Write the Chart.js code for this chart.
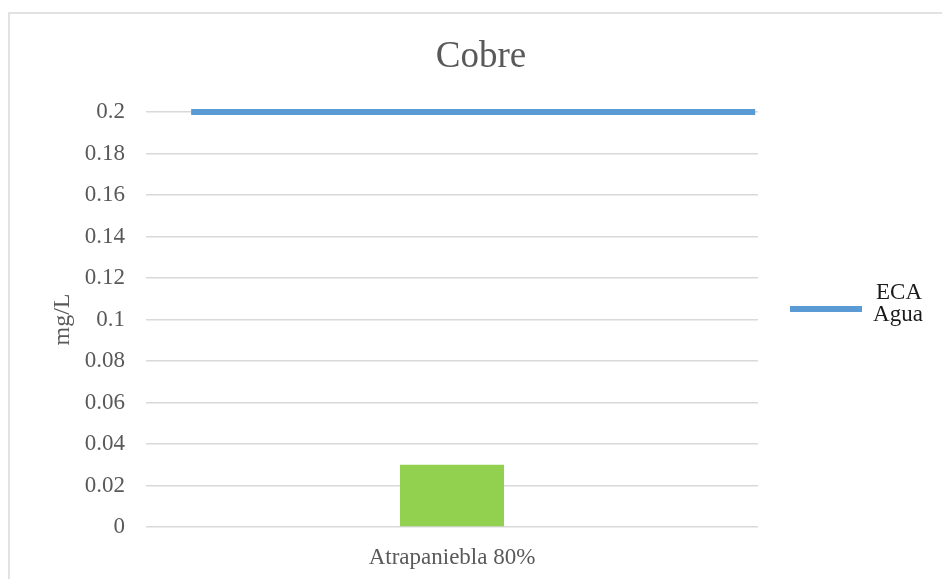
<!DOCTYPE html>
<html>
<head>
<meta charset="utf-8">
<script src="https://cdn.jsdelivr.net/npm/chart.js@4/dist/chart.umd.min.js"></script>
<style>
    html, body { margin: 0; padding: 0; background: #ffffff; }
    #wrap { position: relative; width: 942px; height: 579px; }
</style>
</head>
<body>
<div id="wrap"><canvas id="cobre" width="942" height="579"></canvas></div>
<script>
var chartTitle = 'Cobre';
var categories = ['Atrapaniebla 80%'];
var cobreValues = [0.03];
var ecaValues = [0.2, 0.2];
var yTicks = [0, 0.02, 0.04, 0.06, 0.08, 0.1, 0.12, 0.14, 0.16, 0.18, 0.2];

var serif = "'Liberation Serif', 'Times New Roman', serif";
var grey = '#595959';

// frame, title and legend drawn by hand (Excel style, legend label on two lines)
var frameAndLegend = {
    id: 'frameAndLegend',
    beforeDraw: function (chart) {
        var ctx = chart.ctx;
        ctx.save();
        ctx.strokeStyle = '#d9d9d9';
        ctx.lineWidth = 1.5;
        ctx.beginPath();
        ctx.moveTo(9, 579);
        ctx.lineTo(9, 13);
        ctx.lineTo(942, 13);
        ctx.stroke();
        ctx.restore();
    },
    afterDraw: function (chart) {
        var ctx = chart.ctx;
        var area = chart.chartArea;
        var ds = chart.data.datasets[1];
        var y = 309;
        ctx.save();
        ctx.fillStyle = grey;
        ctx.font = '37px ' + serif;
        ctx.textAlign = 'center';
        ctx.textBaseline = 'middle';
        ctx.fillText(chartTitle, 481, 57);

        ctx.strokeStyle = ds.borderColor;
        ctx.lineWidth = 6;
        ctx.beginPath();
        ctx.moveTo(area.right + 32, y);
        ctx.lineTo(area.right + 104, y);
        ctx.stroke();
        ctx.fillStyle = '#1a1a1a';
        ctx.font = '23px ' + serif;
        var words = ds.label.split(' ');
        ctx.fillText(words[0], area.right + 141, y - 16);
        ctx.fillText(words[1], area.right + 140, y + 6);
        ctx.restore();
    }
};

var ctx = document.getElementById('cobre').getContext('2d');
var chart = new Chart(ctx, {
    type: 'bar',
    data: {
        labels: categories,
        datasets: [{
            label: chartTitle,
            data: cobreValues,
            backgroundColor: '#92d050',
            borderWidth: 0,
            grouped: false,
            barPercentage: 1,
            categoryPercentage: 0.17,
            order: 2
        }, {
            type: 'line',
            label: 'ECA Agua',
            data: ecaValues.map(function (v, i) { return { x: i, y: v }; }),
            xAxisID: 'x2',
            borderColor: '#5b9bd5',
            borderWidth: 6,
            borderCapStyle: 'butt',
            pointRadius: 0,
            fill: false,
            clip: false,
            order: 1
        }]
    },
    options: {
        responsive: false,
        animation: false,
        layout: { padding: { left: 0, right: 184, top: 112, bottom: 0 } },
        plugins: {
            legend: { display: false },
            tooltip: { enabled: false },
            title: { display: false }
        },
        scales: {
            x: {
                type: 'category',
                grid: { display: false, drawTicks: false },
                border: { display: false },
                ticks: { color: grey, padding: 17, font: { family: serif, size: 23 } },
                afterFit: function (s) { s.height = 52; }
            },
            x2: {
                type: 'linear',
                display: false,
                offset: false,
                min: -0.08,
                max: 1.005
            },
            y: {
                min: 0,
                max: 0.2,
                afterBuildTicks: function (s) {
                    s.ticks = yTicks.map(function (v) { return { value: v }; });
                },
                grid: { color: '#d9d9d9', lineWidth: 1.5, drawTicks: false },
                border: { display: false },
                ticks: {
                    color: grey,
                    padding: 21,
                    font: { family: serif, size: 23 },
                    callback: function (v) { return String(Number(v.toFixed(2))); }
                },
                title: {
                    display: true,
                    text: 'mg/L',
                    color: grey,
                    font: { family: serif, size: 24 },
                    padding: { top: 48, bottom: 0 }
                },
                afterFit: function (s) { s.width = 146; }
            }
        }
    },
    plugins: [frameAndLegend]
});
</script>
</body>
</html>
